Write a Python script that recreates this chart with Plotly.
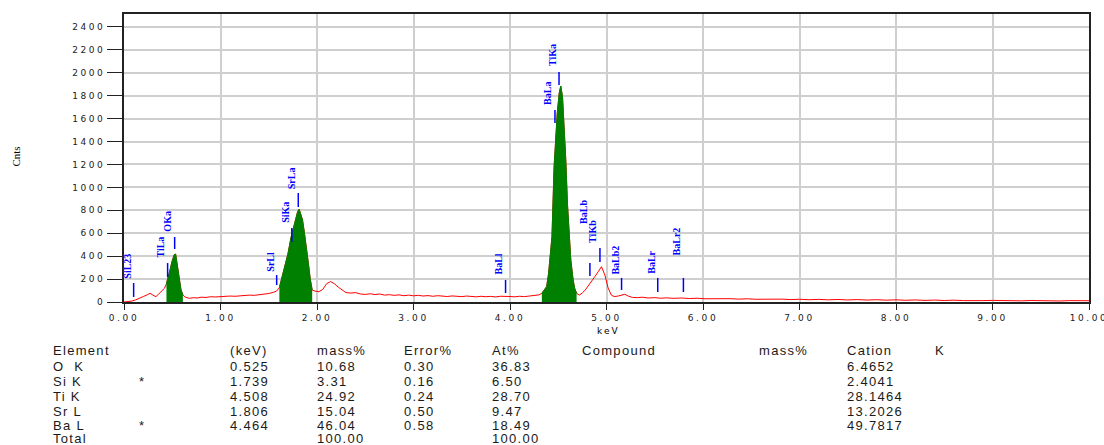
import plotly.graph_objects as go

# ---- EDS spectrum (energy in keV, counts) ----
energy = [
    0.00, 0.04, 0.08, 0.12, 0.16, 0.20, 0.24, 0.27, 0.30, 0.33, 0.36, 0.39, 0.42,
    0.44, 0.46, 0.48, 0.50, 0.52, 0.535, 0.55, 0.57, 0.59, 0.61,
    0.64, 0.68, 0.72, 0.76, 0.80, 0.85, 0.90, 0.95, 1.00, 1.05, 1.10, 1.15, 1.20,
    1.25, 1.30, 1.35, 1.40, 1.45, 1.50, 1.55, 1.58,
    1.61, 1.64, 1.67, 1.70, 1.73, 1.75, 1.78, 1.80, 1.815, 1.83, 1.85, 1.87, 1.89,
    1.91, 1.93, 1.95,
    1.98, 2.02, 2.06, 2.10, 2.14, 2.18, 2.22, 2.26, 2.30, 2.35, 2.40, 2.45, 2.50,
    2.55, 2.60, 2.65, 2.70, 2.75, 2.80, 2.85, 2.90, 2.95, 3.00, 3.05, 3.10, 3.15,
    3.20, 3.25, 3.30, 3.35, 3.40, 3.45, 3.50, 3.55, 3.60, 3.65, 3.70, 3.75, 3.80,
    3.85, 3.90, 3.95, 4.00, 4.05, 4.10, 4.15, 4.20, 4.25, 4.30,
    4.33, 4.36, 4.38, 4.40, 4.41, 4.435, 4.457, 4.47, 4.49, 4.51, 4.526, 4.544,
    4.56, 4.578, 4.595, 4.61, 4.63, 4.654, 4.67, 4.69,
    4.72, 4.75, 4.78, 4.81, 4.845, 4.88, 4.914, 4.948, 4.983, 5.017, 5.05, 5.08,
    5.12, 5.16, 5.19, 5.23, 5.27, 5.32, 5.37, 5.43, 5.50, 5.56, 5.62, 5.70, 5.78,
    5.86, 5.94, 6.02, 6.10, 6.19, 6.28, 6.37, 6.46, 6.55, 6.64, 6.73, 6.82, 6.91,
    7.00, 7.10, 7.20, 7.30, 7.40, 7.50, 7.60, 7.70, 7.80, 7.90, 8.00, 8.10, 8.20,
    8.30, 8.40, 8.50, 8.60, 8.70, 8.80, 8.90, 9.00, 9.10, 9.20, 9.30, 9.40, 9.50,
    9.60, 9.70, 9.80, 9.90, 10.00,
]
counts = [
    0, 2, 8, 18, 30, 48, 62, 76, 60, 46, 70, 95, 120,
    160, 215, 290, 360, 412, 418, 330, 240, 110, 60,
    40, 32, 38, 35, 42, 40, 46, 44, 48, 47, 52, 50, 55,
    54, 60, 58, 63, 70, 74, 85, 95,
    125, 230, 330, 425, 560, 628, 745, 790, 810, 770, 715, 600, 483,
    340, 200, 105,
    95, 90, 110, 160, 178, 160, 130, 105, 82, 78, 82, 70, 66,
    72, 65, 70, 60, 64, 58, 62, 55, 60, 54, 58, 52, 56,
    50, 55, 52, 48, 53, 50, 47, 52, 48, 45, 50, 46, 49,
    44, 50, 52, 48, 45, 50, 47, 52, 55, 62,
    76, 110, 134, 250, 352, 570, 1180, 1414, 1650, 1823, 1885, 1790,
    1573, 1240, 862, 600, 366, 192, 120, 76,
    60, 80, 105, 140, 177, 222, 264, 308, 236, 122, 60, 47,
    52, 60, 67, 50, 40, 38, 42, 35, 38, 33, 36, 32, 35,
    30, 33, 28, 30, 26, 29, 25, 28, 24, 26, 22, 25, 21,
    24, 20, 23, 19, 22, 18, 21, 17, 20, 16, 19, 15, 18,
    14, 17, 13, 16, 12, 15, 12, 14, 11, 14, 10, 13, 10,
    12, 9, 12, 9, 11,
]

# energy windows of the fitted (shaded) peaks
peak_windows = [(0.44, 0.61), (1.61, 1.95), (4.33, 4.69)]

# ---- line markers ----
line_names = ["SiL23", "TiLa", "OKa", "SrLl", "SiKa", "SrLa", "BaLl", "BaLa",
              "TiKa", "BaLb", "TiKb", "BaLb2", "BaLr", "BaLr2"]
line_kev = [0.100, 0.452, 0.525, 1.582, 1.739, 1.806, 3.954, 4.466,
            4.508, 4.828, 4.932, 5.156, 5.531, 5.797]
marker_low = [44, 218, 462, 148, 523, 829, 78, 1562, 1894, 227, 349, 105, 87, 87]
marker_high = [166, 340, 567, 235, 646, 951, 192, 1675, 2007, 340, 471, 210, 210, 210]
label_counts = [314, 480, 707, 349, 785, 1082, 332, 1824, 2155, 785, 620, 366, 349, 532]

# ---- quantification table ----
elements = ["O  K", "Si K", "Ti K", "Sr L", "Ba L"]
flags = ["", "*", "", "", "*"]
line_energy = ["0.525", "1.739", "4.508", "1.806", "4.464"]
mass_pct = ["10.68", "3.31", "24.92", "15.04", "46.04"]
error_pct = ["0.30", "0.16", "0.24", "0.50", "0.58"]
atom_pct = ["36.83", "6.50", "28.70", "9.47", "18.49"]
cation = ["6.4652", "2.4041", "28.1464", "13.2026", "49.7817"]
mass_total = "100.00"
atom_total = "100.00"
headers = ["Element", "(keV)", "mass%", "Error%", "At%", "Compound", "mass%", "Cation", "K"]

x_ticks = list(range(0, 11))
y_ticks = list(range(0, 2401, 200))

W, H = 1104, 445
L, R, T, B = 123.5, 15, 14, 143
PW, PH = W - L - R, H - T - B


def px(xp):
    return (xp - L) / PW


def py(yp):
    return (H - B - yp) / PH


def spaced(s, sp=1.6):
    return f'<span style="letter-spacing:{sp}px">{s}</span>'


fig = go.Figure()

# raw spectrum
fig.add_trace(go.Scatter(
    x=energy, y=counts, mode="lines",
    line=dict(color="#ff0000", width=1), hoverinfo="skip", showlegend=False))

# shaded peaks
for lo, hi in peak_windows:
    xs = [e for e in energy if lo <= e <= hi]
    ys = [c for e, c in zip(energy, counts) if lo <= e <= hi]
    fig.add_trace(go.Scatter(
        x=xs, y=ys, mode="lines", fill="tozeroy",
        fillcolor="#008000", line=dict(color="#008000", width=1),
        hoverinfo="skip", showlegend=False))

# line marker ticks
mx, my = [], []
for e, lo, hi in zip(line_kev, marker_low, marker_high):
    mx += [e, e, None]
    my += [lo, hi, None]
fig.add_trace(go.Scatter(
    x=mx, y=my, mode="lines", line=dict(color="#0000ff", width=1.5),
    hoverinfo="skip", showlegend=False))

annotations = []
for name, e, yc in zip(line_names, line_kev, label_counts):
    annotations.append(dict(
        x=e, y=yc, xref="x", yref="y", text=f"<b>{name}</b>", textangle=-90, xshift=-7,
        showarrow=False, font=dict(family="Liberation Serif", size=10, color="#0000ff")))

# axis captions
annotations.append(dict(x=px(15), y=py(157), xref="paper", yref="paper", text="Cnts",
                        textangle=-90, showarrow=False, xanchor="center", yanchor="middle",
                        font=dict(family="Liberation Serif", size=11, color="#000")))
annotations.append(dict(x=px(608), y=py(331), xref="paper", yref="paper", text=spaced("keV", 2),
                        showarrow=False, xanchor="center", yanchor="middle",
                        font=dict(family="DejaVu Sans", size=9, color="#000")))

# table
col_x = [50, 228, 315, 402, 490, 580, 757, 845, 933]
row_y = [350, 366, 381, 396, 411, 425, 438]
tfont = dict(family="Liberation Sans", size=13, color="#1a1a1a")


def cell(text, xp, yp):
    annotations.append(dict(x=px(xp), y=py(yp), xref="paper", yref="paper",
                            text=spaced(text, 1.3), showarrow=False,
                            xanchor="left", yanchor="middle", font=tfont))


for h, xp in zip(headers, col_x):
    cell(h, xp, row_y[0])
for i in range(len(elements)):
    yp = row_y[i + 1]
    cell(elements[i], col_x[0], yp)
    if flags[i]:
        cell(flags[i], 137, yp)
    cell(line_energy[i], col_x[1], yp)
    cell(mass_pct[i], col_x[2], yp)
    cell(error_pct[i], col_x[3], yp)
    cell(atom_pct[i], col_x[4], yp)
    cell(cation[i], col_x[7], yp)
cell("Total", col_x[0], row_y[6])
cell(mass_total, col_x[2], row_y[6])
cell(atom_total, col_x[4], row_y[6])

tick_font = dict(family="DejaVu Sans", size=9, color="#222")

fig.update_layout(
    width=W, height=H,
    margin=dict(l=L, r=R, t=T, b=B, pad=0, autoexpand=False),
    paper_bgcolor="#ffffff", plot_bgcolor="#ffffff",
    annotations=annotations,
    showlegend=False,
    xaxis=dict(
        range=[0, 10], tickvals=x_ticks,
        ticktext=[spaced(f"{v:.2f}", 2.6) for v in x_ticks],
        ticks="outside", ticklen=6, tickwidth=1.2, tickcolor="#222",
        showgrid=True, gridcolor="#cfcfcf", gridwidth=2, zeroline=False,
        showline=True, linecolor="#222", linewidth=1.5, mirror=True,
        tickfont=tick_font, ticklabeloverflow="allow", automargin=False,
    ),
    yaxis=dict(
        range=[0, 2513], tickvals=y_ticks,
        ticktext=[spaced(str(v), 2.6) for v in y_ticks],
        ticks="outside", ticklen=15, tickwidth=1.2, tickcolor="#222",
        showgrid=True, gridcolor="#cfcfcf", gridwidth=2, zeroline=False,
        showline=True, linecolor="#222", linewidth=1.5, mirror=True,
        tickfont=tick_font, automargin=False,
    ),
)

fig.write_html("out.html")
